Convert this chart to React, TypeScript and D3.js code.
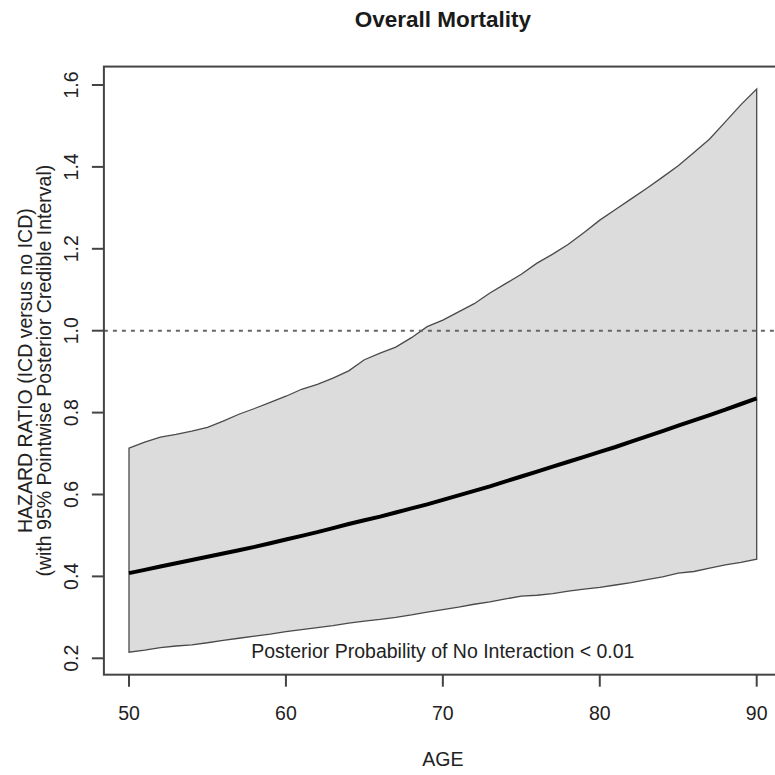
import * as d3 from 'd3'

// hazard ratio curve
const ages = [
  50, 51, 52, 53, 54, 55, 56, 57, 58, 59, 60, 61, 62, 63, 64, 65, 66, 67, 68, 69, 70,
  71, 72, 73, 74, 75, 76, 77, 78, 79, 80, 81, 82, 83, 84, 85, 86, 87, 88, 89, 90,
]
const hrMean = [
  0.408, 0.416, 0.424, 0.432, 0.44, 0.448, 0.456, 0.464, 0.472, 0.481, 0.49, 0.499, 0.508,
  0.518, 0.528, 0.537, 0.546, 0.556, 0.566, 0.576, 0.587, 0.598, 0.609, 0.62, 0.632, 0.644,
  0.656, 0.668, 0.68, 0.692, 0.704, 0.716, 0.729, 0.742, 0.755, 0.768, 0.781, 0.794, 0.807,
  0.821, 0.835,
]
const hrLower = [
  0.215, 0.22, 0.226, 0.23, 0.233, 0.238, 0.244, 0.249, 0.254, 0.259, 0.265, 0.27, 0.275,
  0.28, 0.286, 0.291, 0.295, 0.3, 0.306, 0.313, 0.319, 0.325, 0.332, 0.338, 0.345, 0.352,
  0.354, 0.358, 0.364, 0.369, 0.373, 0.379, 0.385, 0.392, 0.399, 0.408, 0.412, 0.42, 0.428,
  0.434, 0.442,
]
const hrUpper = [
  0.713, 0.728, 0.74, 0.747, 0.755, 0.764, 0.779, 0.796, 0.81, 0.825, 0.84, 0.857, 0.869,
  0.884, 0.902, 0.929, 0.945, 0.96, 0.983, 1.01, 1.026, 1.046, 1.066, 1.092, 1.115, 1.138,
  1.165, 1.187, 1.211, 1.24, 1.27, 1.296, 1.322, 1.348, 1.375, 1.403, 1.435, 1.468, 1.51,
  1.552, 1.59,
]
const xTicks = [50, 60, 70, 80, 90]
const yTicks = [0.2, 0.4, 0.6, 0.8, 1.0, 1.2, 1.4, 1.6]
const refLine = 1.0

const W = 775
const H = 775
const font = '"Liberation Sans", Arial, Helvetica, sans-serif'

export default function App() {
  const pts = ages.map((a, i) => ({ age: a, m: hrMean[i], lo: hrLower[i], hi: hrUpper[i] }))

  const x = d3.scaleLinear().domain([50, 90]).range([129, 756.7])
  const y = d3.scaleLinear().domain([0.2, 1.6]).range([658.3, 85])

  // R style 4% axis extension for the frame
  const xPad = (90 - 50) * 0.04
  const yLo = d3.min(hrLower)!
  const yHi = d3.max(hrUpper)!
  const yPad = (yHi - yLo) * 0.04
  const left = x(50 - xPad)
  const right = x(90 + xPad)
  const top = y(yHi + yPad)
  const bottom = y(yLo - yPad)
  const cx = (left + right) / 2

  const band = d3
    .area<(typeof pts)[number]>()
    .x((d) => x(d.age))
    .y0((d) => y(d.lo))
    .y1((d) => y(d.hi))
  const line = d3
    .line<(typeof pts)[number]>()
    .x((d) => x(d.age))
    .y((d) => y(d.m))

  return (
    <svg
      width={W}
      height={H}
      style={{ position: 'absolute', left: 0, top: 0, background: '#fff' }}
      fontFamily={font}
    >
      <text x={cx} y={27} textAnchor="middle" fontSize={22.5} fontWeight="bold" fill="#1a1a1a">
        Overall Mortality
      </text>

      <path d={band(pts) + 'Z'} fill="#dcdcdc" stroke="#4a4a4a" strokeWidth={1.3} />
      <path d={line(pts)!} fill="none" stroke="#000" strokeWidth={4} />

      <line
        x1={left}
        x2={right}
        y1={y(refLine)}
        y2={y(refLine)}
        stroke="#666"
        strokeWidth={2}
        strokeDasharray="4 5"
      />

      <text x={cx} y={658} textAnchor="middle" fontSize={19.5} fill="#222">
        Posterior Probability of No Interaction &lt; 0.01
      </text>

      <rect x={left} y={top} width={right - left} height={bottom - top} fill="none" stroke="#444" strokeWidth={2} />

      {xTicks.map((t) => (
        <g key={t}>
          <line x1={x(t)} x2={x(t)} y1={bottom} y2={bottom + 12} stroke="#444" strokeWidth={2} />
          <text x={x(t)} y={bottom + 45} textAnchor="middle" fontSize={19.5} fill="#222">
            {t}
          </text>
        </g>
      ))}
      <text x={cx} y={766} textAnchor="middle" fontSize={19.5} fill="#222">
        AGE
      </text>

      {yTicks.map((t) => (
        <g key={t}>
          <line x1={left - 12} x2={left} y1={y(t)} y2={y(t)} stroke="#444" strokeWidth={2} />
          <text
            transform={`translate(78,${y(t)}) rotate(-90)`}
            textAnchor="middle"
            fontSize={19.5}
            fill="#222"
          >
            {t.toFixed(1)}
          </text>
        </g>
      ))}
      <text transform={`translate(32,${(top + bottom) / 2}) rotate(-90)`} textAnchor="middle" fontSize={19.5} fill="#222">
        HAZARD RATIO (ICD versus no ICD)
      </text>
      <text transform={`translate(51,${(top + bottom) / 2}) rotate(-90)`} textAnchor="middle" fontSize={19.5} fill="#222">
        (with 95% Pointwise Posterior Credible Interval)
      </text>
    </svg>
  )
}
